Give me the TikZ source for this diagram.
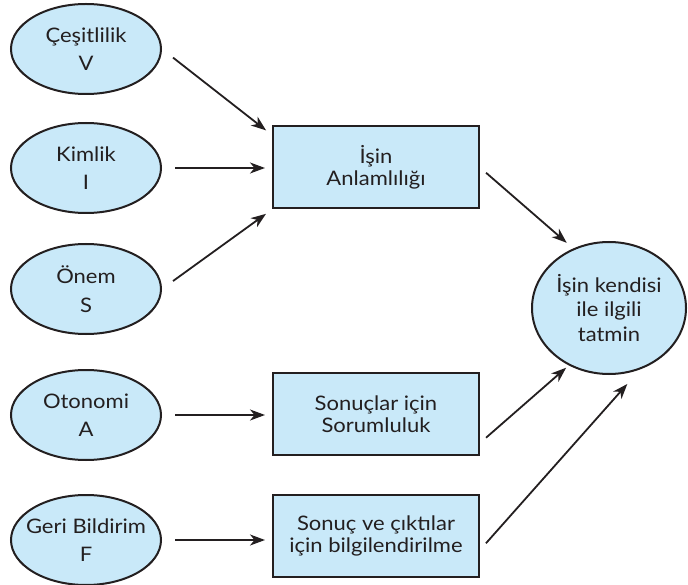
\documentclass[tikz,border=0pt]{standalone}
\usepackage{fontspec}
\setmainfont{Lato}[FakeStretch=1.1]
\usetikzlibrary{arrows.meta,shapes.geometric}
\definecolor{boxfill}{RGB}{201,233,249}
\definecolor{ink}{RGB}{35,31,32}
\begin{document}
\begin{tikzpicture}[x=1pt,y=-1pt,
  every node/.style={font=\fontsize{20}{22.5}\selectfont, text=ink},
  factorbox/.style={ellipse, draw=ink, fill=boxfill, line width=2pt,
    minimum width=150pt, minimum height=90pt, inner ysep=0pt, inner xsep=-14pt,
    align=center},
  statebox/.style={rectangle, draw=ink, fill=boxfill, line width=2pt,
    minimum width=206pt, minimum height=82pt, inner sep=0pt, align=center},
  outcomebox/.style={ellipse, draw=ink, fill=boxfill, line width=2pt,
    minimum width=154pt, minimum height=132pt, inner sep=0pt, align=center},
  link/.style={draw=ink, line width=1.8pt,
    -{Stealth[length=15pt,width=11pt,inset=4.5pt]}}]
\useasboundingbox (0,0) rectangle (688,585);

% core job dimensions
\node[factorbox] (ces)  at (86,49)  {Çeşitlilik\\[6pt]V};
\node[factorbox] (kim)  at (86,168) {Kimlik\\[6pt]I};
\node[factorbox] (onem) at (86,289) {Önem\\[6pt]S};
\node[factorbox] (oto)  at (86,415) {Otonomi\\[6pt]A};
\node[factorbox] (geri) at (86,540) {Geri Bildirim\\[6pt]F};

% critical psychological states
\node[statebox] (box1) at (376,167.5) {İşin\\Anlamlılığı};
\node[statebox] (box2) at (376,414)   {Sonuçlar için\\Sorumluluk};
\node[statebox] (box3) at (376,536)   {Sonuç ve çıktılar\\için bilgilendirilme};

% outcome
\node[outcomebox] (sat) at (609,308) {İşin kendisi\\[2pt]ile ilgili\\[2pt]tatmin};

% dimensions -> states
\draw[link, shorten <=14pt, shorten >=7.5pt] (ces.east) -- ([yshift=-9.5pt]box1.north west);
\draw[link, shorten <=13pt, shorten >=7pt] (kim.east) -- (kim.east -| box1.west);
\draw[link, shorten <=13.6pt, shorten >=7.4pt] (onem.east) -- (box1.south west);
\draw[link, shorten <=13pt, shorten >=7pt] (oto.east) -- (oto.east -| box2.west);
\draw[link, shorten <=13pt, shorten >=7pt] (geri.east) -- (geri.east -| box3.west);

% states -> outcome
\draw[link, shorten <=8pt, shorten >=8.6pt] (box1.east) -- (sat.121);
\draw[link, shorten <=8pt, shorten >=3.5pt] ([yshift=13pt]box2.south east) -- (sat.235);
\draw[link, shorten <=9pt, shorten >=19.5pt] ([yshift=28pt]box3.south east) -- (sat.297);
\end{tikzpicture}
\end{document}
